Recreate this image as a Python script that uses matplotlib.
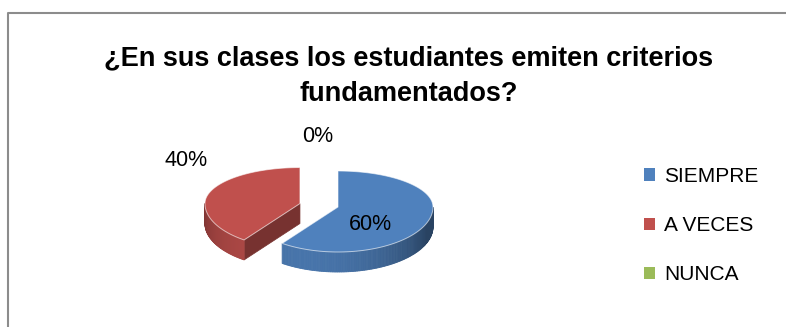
import numpy as np
import matplotlib
matplotlib.use('Agg')
import matplotlib.pyplot as plt
from matplotlib.patches import Polygon, Patch
from matplotlib.lines import Line2D

# ---- data ----
categories = ['SIEMPRE', 'A VECES', 'NUNCA']
values = [60, 40, 0]
pct_labels = ['60%', '40%', '0%']
colors = ['#4F81BD', '#C0504D', '#9BBB59']
explode = [0, 1, 0]
title = '¿En sus clases los estudiantes emiten criterios\nfundamentados?'

# ---- layout ----
W, H = 786, 327
FAM = ['Liberation Sans', 'DejaVu Sans']
plt.rcParams['font.family'] = FAM

fig = plt.figure(figsize=(W / 100, H / 100), dpi=100)
ax = fig.add_axes([0, 0, 1, 1])
ax.set_xlim(0, W)
ax.set_ylim(H, 0)
ax.axis('off')

# chart frame (left and top edges visible)
ax.add_line(Line2D([8, 8, W + 5], [H + 5, 12.5, 12.5], color='#8c8c8c', lw=1.5))

cx, cy = 338, 207
rx, ry_back, ry_front = 95, 36, 45
depth = 20
exp_dx, exp_dy = 40, 32
label_pos = [(370, 225), (186, 161), (318, 137)]


def ell(t, c):
    s = np.sin(t)
    ry = np.where(s > 0, ry_back, ry_front)
    return c[0] + rx * np.cos(t), c[1] - ry * s


def shade(rgb, f):
    return tuple(min(1, max(0, v * f)) for v in rgb)


total = float(sum(values))
slices = []
cum = 0.0
for i, v in enumerate(values):
    a1 = np.radians(90 - 360 * cum / total)
    a2 = np.radians(90 - 360 * (cum + v) / total)
    cum += v
    mid = (a1 + a2) / 2
    c = (cx + explode[i] * exp_dx * np.cos(mid), cy - explode[i] * exp_dy * np.sin(mid) * 0.35)
    slices.append((i, v, a1, a2, mid, c))

# draw from back to front
for i, v, a1, a2, mid, c in sorted(slices, key=lambda s: -np.sin(s[4])):
    if v <= 0:
        continue
    base = matplotlib.colors.to_rgb(colors[i])
    # cut faces
    for edge, normal in ((a1, a1 + np.pi / 2), (a2, a2 - np.pi / 2)):
        if np.sin(normal) < -1e-6:
            ex, ey = ell(np.array([edge]), c)
            poly = [(c[0], c[1]), (ex[0], ey[0]), (ex[0], ey[0] + depth), (c[0], c[1] + depth)]
            ax.add_patch(Polygon(poly, closed=True, fc=shade(base, 0.62), ec=shade(base, 0.62), lw=0.5))
    # outer side
    ts = np.linspace(a2, a1, 200)
    xs, ys = ell(ts, c)
    for k in range(len(ts) - 1):
        tm = (ts[k] + ts[k + 1]) / 2
        if np.sin(tm) >= 0:
            continue
        f = 0.52 + 0.38 * max(0.0, np.cos(tm - np.radians(250)))
        col = shade(base, f)
        poly = [(xs[k], ys[k]), (xs[k + 1], ys[k + 1]), (xs[k + 1], ys[k + 1] + depth), (xs[k], ys[k] + depth)]
        ax.add_patch(Polygon(poly, closed=True, fc=col, ec=col, lw=0.6))
    # top face
    top = [(c[0], c[1])] + list(zip(xs, ys))
    ax.add_patch(Polygon(top, closed=True, fc=base, ec=(1, 1, 1, 0.6), lw=0.7))

# data labels
for (x, y), t in zip(label_pos, pct_labels):
    ax.text(x, y, t, fontsize=15.5, ha='center', va='center', color='black')

# title
ax.text(W / 2 + 16, 76, title, fontsize=19.5, fontweight='bold', ha='center', va='center',
        linespacing=1.5, color='black')

# legend
handles = [Patch(facecolor=col, edgecolor='none') for col in colors]
leg = ax.legend(handles, categories, loc='upper left', bbox_to_anchor=(644 / W, 1 - 167 / H),
                bbox_transform=fig.transFigure, frameon=False, fontsize=15,
                handlelength=0.55, handleheight=0.55, handletextpad=0.4,
                labelspacing=1.45, borderaxespad=0, borderpad=0)

fig.savefig('out.png', dpi=100)
